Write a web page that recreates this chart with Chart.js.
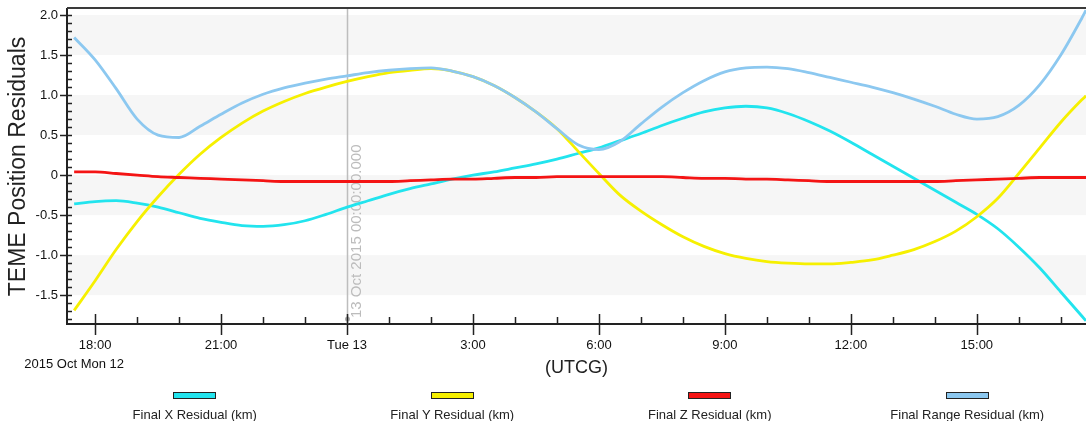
<!DOCTYPE html>
<html>
<head>
<meta charset="utf-8">
<script src="https://cdn.jsdelivr.net/npm/chart.js@4.4.0/dist/chart.umd.min.js"></script>
<style>
  html, body { margin: 0; padding: 0; background: #fff; }
  #wrap { position: relative; width: 1086px; height: 421px; overflow: hidden; font-family: 'Liberation Sans', Arial, sans-serif; }
  #chart { position: absolute; left: 0; top: 0; }
  #legend { position: absolute; left: 66px; top: 392px; width: 1030px; display: flex; }
  .item { flex: 1; text-align: center; font-size: 13px; line-height: 15px; color: #222; }
  .box { width: 41px; height: 5px; border: 1px solid #222; margin: 0 auto 8px; }
</style>
</head>
<body>
<div id="wrap">
  <canvas id="chart" width="1086" height="421"></canvas>
  <div id="legend"></div>
</div>
<script>
// hours since 2015 Oct 12 00:00 UTCG
const times = [17.5, 18, 18.5, 19, 19.5, 20, 20.5, 21, 21.5, 22, 22.5, 23, 23.5, 24, 24.5, 25, 25.5, 26, 26.5, 27, 27.5, 28, 28.5, 29, 29.5,
  30, 30.5, 31, 31.5, 32, 32.5, 33, 33.5, 34, 34.5, 35, 35.5, 36, 36.5, 37, 37.5, 38, 38.5, 39, 39.5, 40, 40.5, 41, 41.5, 41.6];

const xRes = [-0.36, -0.33, -0.32, -0.35, -0.40, -0.47, -0.54, -0.59, -0.63, -0.64, -0.62, -0.57, -0.49, -0.40, -0.32, -0.24, -0.17, -0.11, -0.05, 0.00,
  0.04, 0.09, 0.14, 0.20, 0.27, 0.34, 0.43, 0.52, 0.62, 0.71, 0.79, 0.84, 0.86, 0.84, 0.77, 0.67, 0.55, 0.41, 0.26, 0.11,
  -0.04, -0.19, -0.34, -0.49, -0.67, -0.90, -1.16, -1.46, -1.76, -1.82];
const yRes = [-1.69, -1.32, -0.93, -0.58, -0.27, 0.01, 0.26, 0.47, 0.65, 0.80, 0.92, 1.02, 1.10, 1.17, 1.23, 1.28, 1.31, 1.33, 1.30, 1.23,
  1.12, 0.97, 0.79, 0.58, 0.30, 0.02, -0.25, -0.45, -0.62, -0.77, -0.89, -0.98, -1.04, -1.08, -1.10, -1.11, -1.11, -1.09, -1.06, -1.00,
  -0.93, -0.83, -0.70, -0.52, -0.29, 0.02, 0.34, 0.66, 0.94, 0.99];
const zRes = [0.04, 0.04, 0.02, 0.00, -0.02, -0.03, -0.04, -0.05, -0.06, -0.07, -0.08, -0.08, -0.08, -0.08, -0.08, -0.08, -0.07, -0.06, -0.05, -0.05,
  -0.04, -0.03, -0.03, -0.02, -0.02, -0.02, -0.02, -0.02, -0.02, -0.03, -0.04, -0.04, -0.05, -0.05, -0.06, -0.07, -0.08, -0.08, -0.08, -0.08,
  -0.08, -0.08, -0.07, -0.06, -0.05, -0.04, -0.03, -0.03, -0.03, -0.03];
const rangeRes = [1.72, 1.44, 1.08, 0.70, 0.50, 0.47, 0.61, 0.76, 0.90, 1.01, 1.09, 1.15, 1.20, 1.24, 1.28, 1.31, 1.33, 1.34, 1.30, 1.23,
  1.12, 0.97, 0.79, 0.58, 0.38, 0.32, 0.42, 0.64, 0.85, 1.03, 1.18, 1.29, 1.34, 1.35, 1.33, 1.28, 1.22, 1.16, 1.10, 1.03,
  0.95, 0.86, 0.76, 0.70, 0.73, 0.87, 1.13, 1.50, 1.96, 2.06];

const seriesNames = ['Final X Residual (km)', 'Final Y Residual (km)', 'Final Z Residual (km)', 'Final Range Residual (km)'];
const xMajor = [18, 21, 24, 27, 30, 33, 36, 39];
const xLabels = ['18:00', '21:00', 'Tue 13', '3:00', '6:00', '9:00', '12:00', '15:00'];
const yMajor = [-1.5, -1, -0.5, 0, 0.5, 1, 1.5, 2];
const yBands = [[1.5, 2.0], [0.5, 1.0], [-0.5, 0], [-1.5, -1.0]];
const markerTime = 24;
const markerText = '13 Oct 2015 00:00:00.000';
const startDate = '2015 Oct Mon 12';

Chart.defaults.font.family = "'Liberation Sans', Arial, sans-serif";
Chart.defaults.color = '#222';

function makeSet(label, values, color, order) {
  return {
    label, order,
    data: times.map((t, i) => ({ x: t, y: values[i] })),
    borderColor: color, backgroundColor: color,
    borderWidth: 2.8, pointRadius: 0,
    cubicInterpolationMode: 'monotone'
  };
}

// bands, marker, minor ticks, frame
const decor = {
  id: 'decor',
  beforeDraw(chart) {
    const { ctx, chartArea: a, scales: { y } } = chart;
    ctx.save();
    ctx.fillStyle = '#f6f6f6';
    yBands.forEach(([lo, hi]) => {
      const top = y.getPixelForValue(hi), bot = y.getPixelForValue(lo);
      ctx.fillRect(a.left, top, a.right - a.left, bot - top);
    });
    ctx.restore();
  },
  beforeDatasetsDraw(chart) {
    const { ctx, chartArea: a, scales: { x } } = chart;
    const mx = Math.round(x.getPixelForValue(markerTime)) + 0.5;
    ctx.save();
    ctx.strokeStyle = '#bdbdbd';
    ctx.lineWidth = 1.5;
    ctx.beginPath();
    ctx.moveTo(mx, a.top);
    ctx.lineTo(mx, a.bottom);
    ctx.stroke();
    ctx.fillStyle = '#aaa';
    ctx.beginPath();
    ctx.arc(mx, a.bottom - 5, 2.5, 0, Math.PI * 2);
    ctx.fill();
    ctx.translate(mx + 2, a.bottom - 6);
    ctx.rotate(-Math.PI / 2);
    ctx.fillStyle = '#bcbcbc';
    ctx.font = "15px 'Liberation Sans', Arial, sans-serif";
    ctx.textAlign = 'left';
    ctx.textBaseline = 'top';
    ctx.fillText(markerText, 0, 0);
    ctx.restore();
  },
  afterDraw(chart) {
    const { ctx, chartArea: a, scales: { x, y } } = chart;
    ctx.save();
    ctx.strokeStyle = '#222';
    ctx.lineWidth = 1.5;
    ctx.beginPath();
    for (let i = -18; i <= 20; i++) {
      const py = Math.round(y.getPixelForValue(i / 10)) + 0.5;
      ctx.moveTo(i % 5 === 0 ? a.left - 7 : a.left, py);
      ctx.lineTo(a.left + 5, py);
    }
    for (let h = Math.ceil(x.min); h <= Math.floor(x.max); h++) {
      const px = Math.round(x.getPixelForValue(h)) + 0.5;
      const major = h % 3 === 0;
      ctx.moveTo(px, a.bottom - (major ? 10 : 7));
      ctx.lineTo(px, a.bottom + (major ? 11 : 0));
    }
    ctx.stroke();
    // top frame
    ctx.strokeStyle = '#3a3a3a';
    ctx.lineWidth = 2;
    ctx.beginPath();
    ctx.moveTo(a.left, a.top - 1);
    ctx.lineTo(a.right, a.top - 1);
    ctx.stroke();
    // start date under first tick
    ctx.fillStyle = '#111';
    ctx.font = "13px 'Liberation Sans', Arial, sans-serif";
    ctx.textAlign = 'center';
    ctx.textBaseline = 'middle';
    ctx.fillText(startDate, x.getPixelForValue(xMajor[0]) - 21, a.bottom + 40);
    ctx.restore();
  }
};

const ctx = document.getElementById('chart').getContext('2d');
const chart = new Chart(ctx, {
  type: 'line',
  data: {
    datasets: [
      makeSet(seriesNames[0], xRes, '#22e4ee', 4),
      makeSet(seriesNames[1], yRes, '#f6f000', 3),
      makeSet(seriesNames[2], zRes, '#f41414', 2),
      makeSet(seriesNames[3], rangeRes, '#8cc8f0', 1)
    ]
  },
  options: {
    responsive: false,
    animation: false,
    devicePixelRatio: 1,
    layout: { padding: { top: 9, right: 0, bottom: 40, left: 0 } },
    plugins: { legend: { display: false }, tooltip: { enabled: false } },
    scales: {
      x: {
        type: 'linear', min: 17.33, max: 41.6,
        afterBuildTicks: s => { s.ticks = xMajor.map(v => ({ value: v })); },
        afterFit: s => { s.height = 57; s.paddingLeft = 0; s.paddingRight = 0; },
        grid: { display: false, drawTicks: false },
        border: { display: true, color: '#222', width: 2 },
        ticks: { autoSkip: false, maxRotation: 0, padding: 14, color: '#111', font: { size: 13 },
                 callback: v => xLabels[xMajor.indexOf(v)] },
        title: { display: true, text: '(UTCG)', color: '#222', font: { size: 18 }, padding: { top: 0, bottom: 2 } }
      },
      y: {
        min: -1.86, max: 2.075,
        afterBuildTicks: s => { s.ticks = yMajor.map(v => ({ value: v })); },
        afterFit: s => { s.width = 67; s.paddingTop = 0; s.paddingBottom = 0; },
        grid: { display: false, drawTicks: false },
        border: { display: true, color: '#222', width: 2 },
        ticks: { padding: 9, color: '#111', font: { size: 13 },
                 callback: v => v === 0 ? '0' : v.toFixed(1) },
        title: { display: true, text: 'TEME Position Residuals', color: '#222', font: { size: 23 }, padding: { top: 5, bottom: 0 } }
      }
    }
  },
  plugins: [decor]
});

// legend: swatch above label
const legendEl = document.getElementById('legend');
chart.data.datasets.forEach(ds => {
  const item = document.createElement('div');
  item.className = 'item';
  const box = document.createElement('div');
  box.className = 'box';
  box.style.background = ds.borderColor;
  item.appendChild(box);
  item.appendChild(document.createTextNode(ds.label));
  legendEl.appendChild(item);
});
</script>
</body>
</html>
